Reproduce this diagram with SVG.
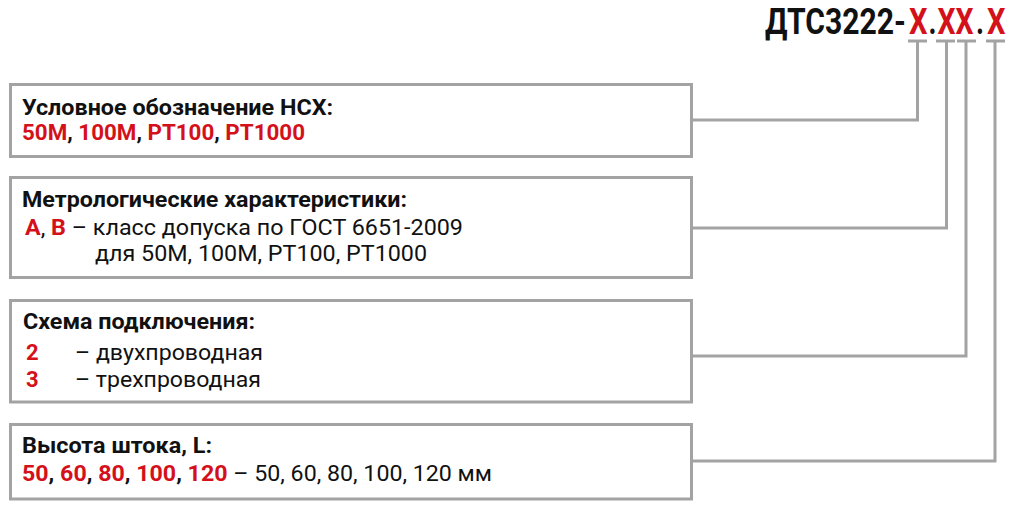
<svg xmlns="http://www.w3.org/2000/svg" width="1009" height="511" viewBox="0 0 1009 511">
<style>
.box{fill:#fff;stroke:#a3a3a3;stroke-width:3}
.con{fill:none;stroke:#a3a3a3;stroke-width:3}
text{font-family:Roboto,"Liberation Sans",sans-serif;font-size:22px;fill:#111}
.b{font-weight:bold}
.r{fill:#d4111a}
.t{font-size:37px;font-weight:bold}
</style>
<rect width="1009" height="511" fill="#fff"/>
<g id="title">
<text class="t" x="765" y="33.5" textLength="141" lengthAdjust="spacingAndGlyphs">ДТС3222-</text>
<text class="t r" x="909" y="33.5" textLength="18.5" lengthAdjust="spacingAndGlyphs">X</text>
<text class="t" x="928.5" y="33.5" textLength="8" lengthAdjust="spacingAndGlyphs">.</text>
<text class="t r" x="937.5" y="33.5" textLength="36" lengthAdjust="spacingAndGlyphs">XX</text>
<text class="t" x="976" y="33.5" textLength="8" lengthAdjust="spacingAndGlyphs">.</text>
<text class="t r" x="987" y="33.5" textLength="18.5" lengthAdjust="spacingAndGlyphs">X</text>
</g>
<g id="connectors">
<path class="con" d="M908 41H927M917.5 41V120H692"/>
<path class="con" d="M936 41H955M946.5 41V228H692"/>
<path class="con" d="M957 41H976M966 41V356H692"/>
<path class="con" d="M986 41H1005M995 41V461H692"/>
</g>
<g id="node-nsh">
<rect class="box" x="10.5" y="84.5" width="681" height="72"/>
<text class="b" x="22" y="114.5" textLength="311" lengthAdjust="spacingAndGlyphs">Условное обозначение НСХ:</text>
<text class="b" x="22" y="140" textLength="283" lengthAdjust="spacingAndGlyphs"><tspan class="r">50M</tspan>, <tspan class="r">100M</tspan>, <tspan class="r">PT100</tspan>, <tspan class="r">PT1000</tspan></text>
</g>
<g id="node-metro">
<rect class="box" x="10.5" y="177.5" width="681" height="100"/>
<text class="b" x="22" y="206.5" textLength="385" lengthAdjust="spacingAndGlyphs">Метрологические характеристики:</text>
<text x="25" y="234.5" textLength="438" lengthAdjust="spacingAndGlyphs"><tspan class="b r">A</tspan>, <tspan class="b r">B</tspan> – класс допуска по ГОСТ 6651-2009</text>
<text x="95" y="261" textLength="332" lengthAdjust="spacingAndGlyphs">для 50M, 100M, PT100, PT1000</text>
</g>
<g id="node-scheme">
<rect class="box" x="10.5" y="300.5" width="681" height="101.5"/>
<text class="b" x="23" y="329" textLength="232" lengthAdjust="spacingAndGlyphs">Схема подключения:</text>
<text class="b r" x="26" y="360">2</text>
<text x="75" y="360" textLength="188" lengthAdjust="spacingAndGlyphs">– двухпроводная</text>
<text class="b r" x="26" y="386.5">3</text>
<text x="75" y="386.5" textLength="186" lengthAdjust="spacingAndGlyphs">– трехпроводная</text>
</g>
<g id="node-height">
<rect class="box" x="10.5" y="424.5" width="681" height="74.5"/>
<text class="b" x="22" y="453" textLength="190" lengthAdjust="spacingAndGlyphs">Высота штока, L:</text>
<text x="22" y="481" textLength="470" lengthAdjust="spacingAndGlyphs"><tspan class="b"><tspan class="r">50</tspan>, <tspan class="r">60</tspan>, <tspan class="r">80</tspan>, <tspan class="r">100</tspan>, <tspan class="r">120</tspan></tspan> – 50, 60, 80, 100, 120 мм</text>
</g>
</svg>
